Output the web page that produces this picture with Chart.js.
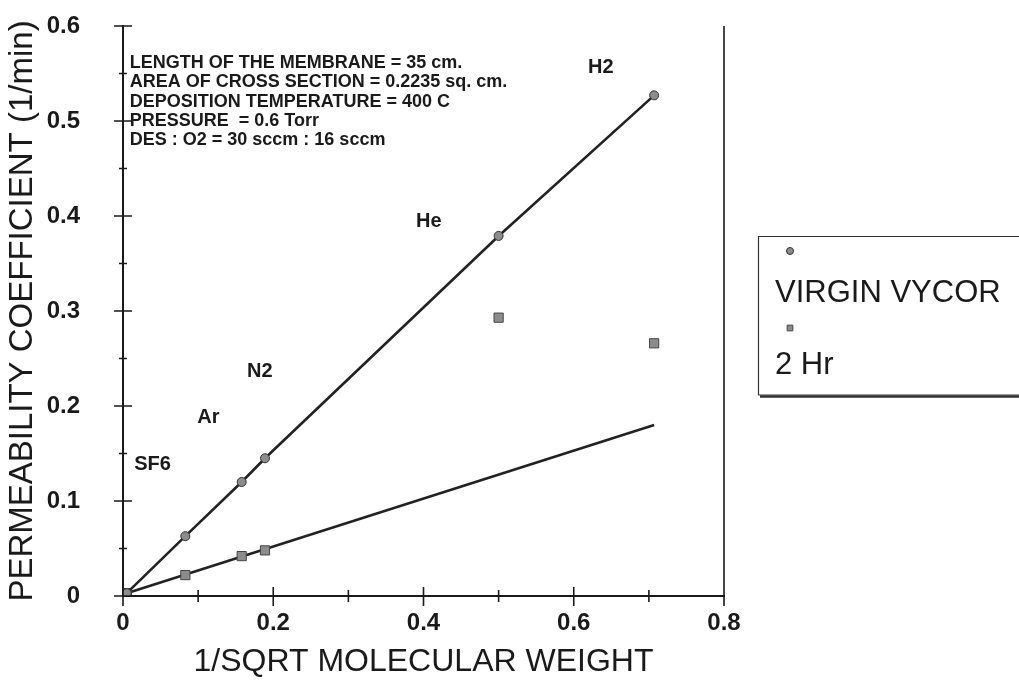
<!DOCTYPE html>
<html>
<head>
<meta charset="utf-8">
<script src="https://cdn.jsdelivr.net/npm/chart.js@4.4.0/dist/chart.umd.min.js"></script>
<style>
body { margin: 0; background: #fff; }
canvas { display: block; }
</style>
</head>
<body>
<canvas id="permChart" width="1019" height="696"></canvas>
<script>
// values: permeability coefficient vs 1/sqrt(molecular weight)
const gasNames = ['SF6', 'Ar', 'N2', 'He', 'H2'];
const invSqrtMW = [0.005, 0.083, 0.158, 0.189, 0.500, 0.707];
const virginVycor = [0.003, 0.063, 0.120, 0.145, 0.379, 0.527];
const twoHour = [0.003, 0.022, 0.042, 0.048, 0.293, 0.266];
const twoHourFitX = [0.005, 0.707];            // trend line drawn for the 2 Hr membrane
const twoHourFitY = [0.003, 0.180];
const xTickLabels = [0, 0.2, 0.4, 0.6, 0.8];
const yTickLabels = [0, 0.1, 0.2, 0.3, 0.4, 0.5, 0.6];
const seriesNames = ['VIRGIN VYCOR', '2 Hr'];
const notes = [
    'LENGTH OF THE MEMBRANE = 35 cm.',
    'AREA OF CROSS SECTION = 0.2235 sq. cm.',
    'DEPOSITION TEMPERATURE = 400 C',
    'PRESSURE  = 0.6 Torr',
    'DES : O2 = 30 sccm : 16 sccm'
];

const FONT = '"Liberation Sans", Arial, sans-serif';
const INK = '#1a1a1a';

function toPoints(xs, ys) {
    return xs.map((x, i) => ({ x: x, y: ys[i] }));
}

function pickLabel(list, v) {
    const hit = list.find(t => Math.abs(t - v) < 1e-9);
    return hit === undefined ? '' : String(hit);
}

// ticks that cross the axis lines, long for labelled values, short in between
const crossTicks = {
    id: 'crossTicks',
    afterDraw(chart) {
        const { ctx, chartArea: ca, scales: { x, y } } = chart;
        ctx.save();
        ctx.strokeStyle = INK;
        ctx.lineWidth = 1.6;
        ctx.beginPath();
        ctx.moveTo(ca.right, ca.top);
        ctx.lineTo(ca.right, ca.bottom);
        x.ticks.forEach(t => {
            const px = x.getPixelForValue(t.value);
            const big = pickLabel(xTickLabels, t.value) !== '';
            ctx.moveTo(px, ca.bottom - (big ? 9 : 6));
            ctx.lineTo(px, ca.bottom + (big ? 10 : 6));
        });
        y.ticks.forEach(t => {
            const py = y.getPixelForValue(t.value);
            const big = pickLabel(yTickLabels, t.value) !== '';
            ctx.moveTo(ca.left - (big ? 9 : 4), py);
            ctx.lineTo(ca.left + (big ? 9 : 4), py);
        });
        ctx.stroke();
        ctx.restore();
    }
};

// gas names and the run conditions written inside the plot
const plotText = {
    id: 'plotText',
    afterDraw(chart) {
        const { ctx, scales: { x, y } } = chart;
        const spots = [[0.015, 0.138], [0.099, 0.188], [0.165, 0.236], [0.390, 0.394], [0.619, 0.556]];
        ctx.save();
        ctx.fillStyle = INK;
        ctx.textBaseline = 'middle';
        ctx.textAlign = 'left';
        ctx.font = 'bold 20px ' + FONT;
        gasNames.forEach((g, i) => {
            ctx.fillText(g, x.getPixelForValue(spots[i][0]), y.getPixelForValue(spots[i][1]));
        });
        ctx.font = 'bold 18px ' + FONT;
        const left = x.getPixelForValue(0.009);
        const top = y.getPixelForValue(0.561);
        notes.forEach((n, i) => ctx.fillText(n, left, top + i * 19.3));
        ctx.restore();
    }
};

// boxed legend to the right: marker above its name
const boxLegend = {
    id: 'boxLegend',
    afterDraw(chart) {
        const ctx = chart.ctx;
        ctx.save();
        ctx.strokeStyle = '#333';
        ctx.lineWidth = 1.2;
        ctx.beginPath();
        ctx.moveTo(1030, 236.5);
        ctx.lineTo(758.5, 236.5);
        ctx.lineTo(758.5, 395);
        ctx.lineTo(1030, 395);
        ctx.stroke();
        ctx.lineWidth = 2.5;
        ctx.beginPath();
        ctx.moveTo(760, 396.5);
        ctx.lineTo(1030, 396.5);
        ctx.stroke();
        const rows = [{ ds: 0, mark: 251, text: 293 }, { ds: 1, mark: 328, text: 365 }];
        ctx.font = '31px ' + FONT;
        ctx.textBaseline = 'middle';
        ctx.textAlign = 'left';
        rows.forEach(r => {
            const d = chart.data.datasets[r.ds];
            ctx.fillStyle = d.pointBackgroundColor;
            ctx.strokeStyle = d.pointBorderColor;
            ctx.lineWidth = 1;
            Chart.helpers.drawPoint(ctx, { pointStyle: d.pointStyle, radius: r.ds === 0 ? 3.5 : 4, rotation: 0, borderWidth: 1 }, 790, r.mark);
            ctx.fillStyle = INK;
            ctx.fillText(d.label, 775, r.text);
        });
        ctx.restore();
    }
};

new Chart(document.getElementById('permChart'), {
    type: 'scatter',
    data: {
        datasets: [
            {
                label: seriesNames[0],
                data: toPoints(invSqrtMW, virginVycor),
                showLine: true,
                borderColor: '#222',
                borderWidth: 2.6,
                pointStyle: 'circle',
                pointRadius: 4.5,
                pointBackgroundColor: '#8c8c8c',
                pointBorderColor: '#333',
                pointBorderWidth: 1
            },
            {
                label: seriesNames[1],
                data: toPoints(invSqrtMW, twoHour),
                showLine: false,
                pointStyle: 'rect',
                pointRadius: 6.5,
                pointBackgroundColor: '#8c8c8c',
                pointBorderColor: '#444',
                pointBorderWidth: 1
            },
            {
                label: 'fit',
                data: toPoints(twoHourFitX, twoHourFitY),
                showLine: true,
                borderColor: '#222',
                borderWidth: 2.6,
                pointRadius: 0
            }
        ]
    },
    options: {
        responsive: false,
        animation: false,
        layout: { padding: { top: 26, right: 295, bottom: 0, left: 0 } },
        scales: {
            x: {
                type: 'linear',
                min: 0,
                max: 0.8,
                afterFit: s => { s.height = 100; },
                ticks: {
                    stepSize: 0.1,
                    autoSkip: false,
                    maxRotation: 0,
                    padding: 13,
                    color: INK,
                    font: { family: FONT, size: 24, weight: 'bold' },
                    callback: v => pickLabel(xTickLabels, v)
                },
                grid: { display: false, drawTicks: false },
                border: { display: true, color: INK, width: 2 },
                title: {
                    display: true,
                    text: '1/SQRT MOLECULAR WEIGHT',
                    color: INK,
                    font: { family: FONT, size: 32 },
                    padding: { top: 15, bottom: 15 }
                }
            },
            y: {
                min: 0,
                max: 0.6,
                afterFit: s => { s.width = 123; },
                ticks: {
                    stepSize: 0.05,
                    autoSkip: false,
                    padding: 8,
                    color: INK,
                    font: { family: FONT, size: 24, weight: 'bold' },
                    callback: v => pickLabel(yTickLabels, v)
                },
                // invisible tick marks only reserve the gap between labels and axis
                grid: { display: true, drawOnChartArea: false, drawTicks: true, tickLength: 35, tickColor: 'rgba(0,0,0,0)' },
                border: { display: true, color: INK, width: 2 },
                title: {
                    display: true,
                    text: 'PERMEABILITY COEFFICIENT (1/min)',
                    color: INK,
                    font: { family: FONT, size: 33 },
                    padding: { top: 3, bottom: 3 }
                }
            }
        },
        plugins: {
            legend: { display: false },
            tooltip: { enabled: false }
        }
    },
    plugins: [crossTicks, plotText, boxLegend]
});
</script>
</body>
</html>
